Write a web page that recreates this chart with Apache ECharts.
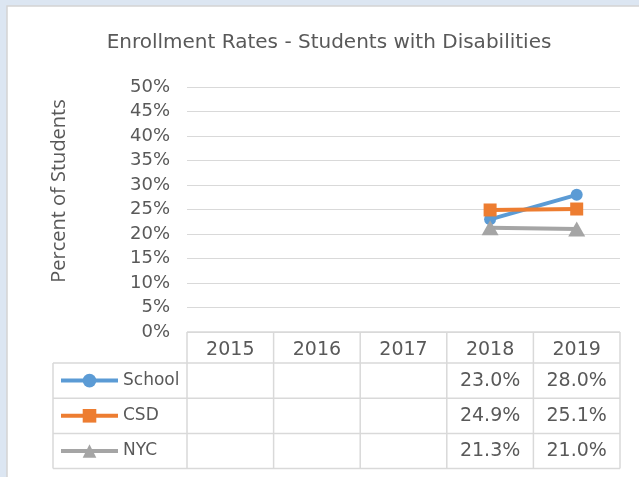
<!DOCTYPE html>
<html>
<head>
<meta charset="utf-8">
<title>Enrollment Rates - Students with Disabilities</title>
<script src="https://cdn.jsdelivr.net/npm/echarts@6/dist/echarts.min.js"></script>
<style>
  html, body { margin: 0; padding: 0; background: #dce6f2; }
  #chart { width: 639px; height: 477px; }
</style>
</head>
<body>
<div id="chart"></div>
<script>
// ---- data ----
const years = ['2015', '2016', '2017', '2018', '2019'];
const seriesNames = ['School', 'CSD', 'NYC'];
const schoolRates = [null, null, null, 23.0, 28.0];
const csdRates = [null, null, null, 24.9, 25.1];
const nycRates = [null, null, null, 21.3, 21.0];
const yMin = 0, yMax = 50, yStep = 5;

// ---- style ----
const TEXT = '#595959';
const RULE = '#d9d9d9';
const MAIN_FONT = 'DejaVu Sans';
const COLORS = ['#5b9bd5', '#ed7d31', '#a5a5a5'];
const GRID = { left: 187, right: 19, top: 87, bottom: 145 };
const ROW_H = 35.2;          // data-table row height
const HEAD_H = 31;           // data-table header height
const TABLE_LEFT = 53;
const LEGEND_H = 17;         // legend item height (icon and label line)

const chart = echarts.init(document.getElementById('chart'));

const seriesValues = [schoolRates, csdRates, nycRates];
const symbols = ['circle', 'rect', 'triangle'];
const symbolSizes = [12, 13, [17, 15]];

chart.setOption({
  backgroundColor: '#dce6f2',
  animation: false,
  title: {
    text: 'Enrollment Rates - Students with Disabilities',
    left: 329, top: 33, textAlign: 'center', padding: 0,
    textStyle: { fontFamily: MAIN_FONT, fontSize: 20, fontWeight: 'normal', color: TEXT }
  },
  grid: GRID,
  legend: {
    data: seriesNames,
    orient: 'vertical',
    left: 59,
    top: (477 - GRID.bottom) + HEAD_H + ROW_H / 2 - LEGEND_H / 2,
    itemWidth: 57, itemHeight: LEGEND_H, itemGap: ROW_H - LEGEND_H,
    padding: 0,
    lineStyle: { width: 4 },
    textStyle: { fontFamily: MAIN_FONT, fontSize: 17, color: TEXT }
  },
  xAxis: {
    type: 'category',
    data: years,
    boundaryGap: true,
    axisLine: { show: false },
    axisTick: { show: false },
    axisLabel: { fontFamily: MAIN_FONT, fontSize: 19, color: TEXT, margin: 8, lineHeight: 20 }
  },
  yAxis: {
    type: 'value',
    min: yMin, max: yMax, interval: yStep,
    axisLine: { show: false },
    axisTick: { show: false },
    axisLabel: { formatter: '{value}%', fontFamily: MAIN_FONT, fontSize: 18, color: TEXT, margin: 17 },
    splitLine: { lineStyle: { color: RULE, width: 1 } }
  },
  series: seriesNames.map((name, i) => ({
    name,
    type: 'line',
    data: seriesValues[i],
    symbol: symbols[i],
    symbolSize: symbolSizes[i],
    showAllSymbol: true,
    lineStyle: { color: COLORS[i], width: 4 },
    itemStyle: { color: COLORS[i] },
    z: 3 + i
  }))
});

// ---- panel, axis title and data table drawn from the same arrays ----
function buildGraphics() {
  const elements = [];
  // white chart panel with thin border
  elements.push({
    type: 'rect', z: -10, silent: true,
    shape: { x: 7, y: 6, width: 640, height: 480 },
    style: { fill: '#ffffff', stroke: '#d4d4d4', lineWidth: 1.5 }
  });
  // vertical axis title
  elements.push({
    type: 'text', x: 59, y: 191, rotation: Math.PI / 2,
    style: {
      text: 'Percent of Students', align: 'center', verticalAlign: 'middle',
      font: '20px "Open Sans"', fill: TEXT
    }
  });

  const plotLeft = GRID.left;
  const plotRight = 639 - GRID.right;
  const band = (plotRight - plotLeft) / years.length;
  const top = chart.convertToPixel({ yAxisIndex: 0 }, yMin);
  const headBottom = top + HEAD_H;
  const bottom = headBottom + ROW_H * seriesNames.length;
  const lineStyle = { stroke: RULE, lineWidth: 1.5 };

  // horizontal rules
  elements.push({ type: 'line', shape: { x1: plotLeft, y1: top, x2: plotRight, y2: top }, style: lineStyle });
  for (let r = 0; r <= seriesNames.length; r++) {
    const y = headBottom + r * ROW_H;
    elements.push({ type: 'line', shape: { x1: TABLE_LEFT, y1: y, x2: plotRight, y2: y }, style: lineStyle });
  }
  // vertical rules
  elements.push({ type: 'line', shape: { x1: TABLE_LEFT, y1: headBottom, x2: TABLE_LEFT, y2: bottom }, style: lineStyle });
  for (let c = 0; c <= years.length; c++) {
    const x = plotLeft + c * band;
    elements.push({ type: 'line', shape: { x1: x, y1: top, x2: x, y2: bottom }, style: lineStyle });
  }
  // cell values
  seriesValues.forEach((vals, r) => {
    const cy = headBottom + (r + 0.5) * ROW_H;
    vals.forEach((v, c) => {
      if (v == null) return;
      const cx = chart.convertToPixel({ xAxisIndex: 0 }, years[c]);
      elements.push({
        type: 'text', x: cx, y: cy,
        style: {
          text: v.toFixed(1) + '%', align: 'center', verticalAlign: 'middle',
          font: '19px "' + MAIN_FONT + '"', fill: TEXT
        }
      });
    });
  });
  chart.setOption({ graphic: { elements } });
}
buildGraphics();
</script>
</body>
</html>
